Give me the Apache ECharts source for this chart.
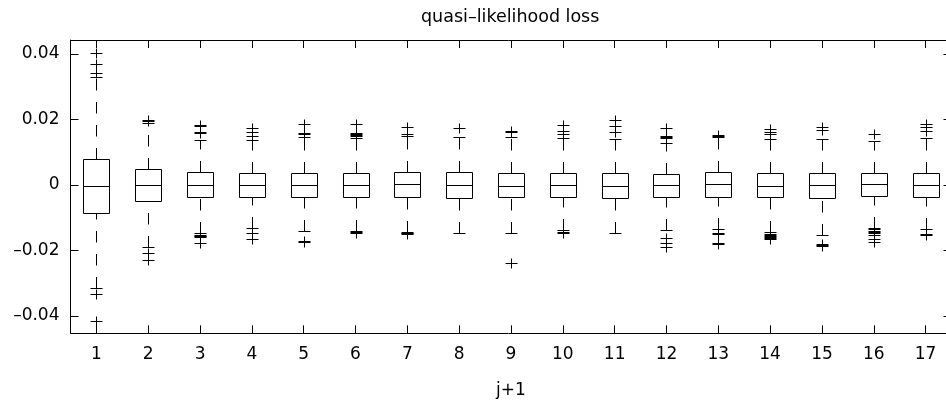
<!DOCTYPE html>
<html>
<head>
<meta charset="utf-8">
<style>
  html, body { margin: 0; padding: 0; background: #fff; }
  #chart { width: 946px; height: 401px; }
</style>
<script src="https://cdn.jsdelivr.net/npm/echarts@6/dist/echarts.min.js"></script>
</head>
<body>
<div id="chart"></div>
<script>
const categories = ['1', '2', '3', '4', '5', '6', '7', '8', '9', '10', '11', '12', '13', '14', '15', '16', '17'];

// box statistics
const q1 = [-0.0086, -0.0048, -0.0038, -0.0038, -0.0038, -0.0036, -0.0036, -0.0040, -0.0038, -0.0036, -0.0041, -0.0038, -0.0036, -0.0038, -0.0039, -0.0033, -0.0038];
const median = [-0.0002, -0.0001, -0.0001, 0.0001, 0.0000, 0.0000, 0.0002, 0.0000, -0.0003, 0.0000, -0.0003, 0.0000, 0.0003, -0.0002, 0.0000, 0.0003, 0.0000];
const q3 = [0.0079, 0.0048, 0.0039, 0.0036, 0.0036, 0.0038, 0.0040, 0.0040, 0.0038, 0.0038, 0.0036, 0.0033, 0.0039, 0.0036, 0.0036, 0.0038, 0.0036];
const whiskerLow = [-0.0316, -0.0188, -0.0147, -0.0132, -0.0139, -0.0141, -0.0143, -0.0148, -0.0148, -0.0138, -0.0148, -0.0136, -0.0135, -0.0145, -0.0152, -0.0130, -0.0135];
const whiskerHigh = [0.0329, 0.0190, 0.0139, 0.0139, 0.0146, 0.0143, 0.0150, 0.0146, 0.0146, 0.0143, 0.0140, 0.0127, 0.0148, 0.0140, 0.0140, 0.0135, 0.0143];

const outliers = [
  [0.0341, 0.0371, 0.0402, 0.0455, -0.0334, -0.0414, -0.0465],
  [0.0196, 0.0199, -0.0207, -0.0229],
  [0.0160, 0.0163, 0.0180, 0.0183, -0.0152, -0.0155, -0.0157, -0.0160, -0.0178],
  [0.0150, 0.0163, 0.0173, -0.0148, -0.0166],
  [0.0155, 0.0158, 0.0186, -0.0171, -0.0174],
  [0.0150, 0.0152, 0.0155, 0.0158, 0.0186, -0.0145, -0.0147],
  [0.0156, 0.0177, -0.0146, -0.0148, -0.0150],
  [0.0173],
  [0.0163, 0.0166, -0.0237],
  [0.0156, 0.0166, 0.0183, -0.0144, -0.0146],
  [0.0163, 0.0180, 0.0198],
  [0.0144, 0.0146, 0.0149, 0.0175, -0.0163, -0.0178, -0.0190],
  [0.0151, 0.0153, -0.0147, -0.0150, -0.0176, -0.0179],
  [0.0155, 0.0161, 0.0170, -0.0150, -0.0153, -0.0156, -0.0159, -0.0162, -0.0166],
  [0.0168, 0.0178, -0.0179, -0.0183, -0.0187],
  [0.0155, -0.0135, -0.0140, -0.0144, -0.0148, -0.0152, -0.0166, -0.0173],
  [0.0166, 0.0176, 0.0186, -0.0150, -0.0152]
];

const yTicks = [-0.04, -0.02, 0, 0.02, 0.04];
const yMin = -0.0453;
const yMax = 0.0443;

const FONT = 'DejaVu Sans';

const boxData = categories.map((c, i) => [i, whiskerLow[i], q1[i], median[i], q3[i], whiskerHigh[i]]);
const outlierData = [];
outliers.forEach((list, i) => list.forEach(v => outlierData.push([i, v])));

const crisp = v => Math.round(v) + 0.5;

function renderBox(params, api) {
  const i = api.value(0);
  const band = api.size([1, 0])[0];
  const half = Math.round(band * 0.25);
  const capHalf = Math.round(band * 0.125);
  const px = crisp(api.coord([i, 0])[0]);
  const y = d => crisp(api.coord([i, api.value(d)])[1]);
  const lo = y(1), bot = y(2), mid = y(3), top = y(4), hi = y(5);
  const solid = { stroke: '#000', lineWidth: 1, fill: null };
  const dashed = { stroke: '#000', lineWidth: 1, lineDash: [11.5, 11.5], fill: null };
  return {
    type: 'group',
    children: [
      { type: 'rect', shape: { x: px - half, y: top, width: half * 2, height: bot - top }, style: { stroke: '#000', lineWidth: 1, fill: 'none' } },
      { type: 'line', shape: { x1: px - half, y1: mid, x2: px + half, y2: mid }, style: solid },
      // whiskers are drawn upward so the dash pattern starts at the lower end
      { type: 'line', shape: { x1: px, y1: top, x2: px, y2: hi }, style: dashed },
      { type: 'line', shape: { x1: px, y1: lo, x2: px, y2: bot }, style: dashed },
      { type: 'line', shape: { x1: px - capHalf, y1: hi, x2: px + capHalf, y2: hi }, style: solid },
      { type: 'line', shape: { x1: px - capHalf, y1: lo, x2: px + capHalf, y2: lo }, style: solid }
    ]
  };
}

function renderPlus(params, api) {
  const p = api.coord([api.value(0), api.value(1)]);
  const x = crisp(p[0]);
  const y = crisp(p[1]);
  const style = { stroke: '#000', lineWidth: 1 };
  return {
    type: 'group',
    children: [
      { type: 'line', shape: { x1: x - 6, y1: y, x2: x + 6, y2: y }, style: style },
      { type: 'line', shape: { x1: x, y1: y - 5, x2: x, y2: y + 5 }, style: style }
    ]
  };
}

const chart = echarts.init(document.getElementById('chart'));

const tickStyle = { color: '#000', width: 1 };
const axisLineStyle = { show: true, onZero: false, lineStyle: { color: '#000', width: 1 } };

const option = {
  animation: false,
  backgroundColor: '#fff',
  title: {
    text: 'quasi\u2013likelihood loss',
    left: 421,
    top: 8,
    padding: 0,
    textStyle: { fontFamily: FONT, fontSize: 17.5, fontWeight: 'normal', color: '#000' }
  },
  // the right border sits just outside the picture, as in the original crop
  grid: { left: 70.5, right: -5.5, top: 40, bottom: 67.7, containLabel: false, outerBoundsMode: 'none' },
  xAxis: [
    {
      type: 'category',
      data: categories,
      position: 'bottom',
      boundaryGap: true,
      name: 'j+1',
      nameLocation: 'middle',
      nameGap: 49,
      nameTextStyle: { fontFamily: FONT, fontSize: 17, color: '#000' },
      axisLine: axisLineStyle,
      axisTick: { show: true, inside: true, alignWithLabel: true, interval: 0, length: 8, lineStyle: tickStyle },
      axisLabel: { interval: 0, margin: 13, fontFamily: FONT, fontSize: 17, color: '#000' },
      splitLine: { show: false }
    },
    {
      type: 'category',
      data: categories,
      position: 'top',
      boundaryGap: true,
      axisLine: axisLineStyle,
      axisTick: { show: true, inside: true, alignWithLabel: true, interval: 0, length: 8, lineStyle: tickStyle },
      axisLabel: { show: false },
      splitLine: { show: false }
    }
  ],
  yAxis: [
    {
      type: 'value',
      min: yMin,
      max: yMax,
      axisLine: axisLineStyle,
      axisTick: { show: true, inside: true, length: 8, customValues: yTicks, lineStyle: tickStyle },
      axisLabel: {
        customValues: yTicks,
        margin: 11,
        fontFamily: FONT,
        fontSize: 17,
        color: '#000',
        formatter: v => (v < 0 ? '\u2013' + String(-v) : String(v))
      },
      splitLine: { show: false }
    },
    {
      type: 'value',
      position: 'right',
      min: yMin,
      max: yMax,
      axisLine: axisLineStyle,
      axisTick: { show: true, inside: true, length: 8, customValues: yTicks, lineStyle: tickStyle },
      axisLabel: { show: false },
      splitLine: { show: false }
    }
  ],
  series: [
    {
      type: 'custom',
      name: 'box',
      xAxisIndex: 0,
      yAxisIndex: 0,
      clip: true,
      renderItem: renderBox,
      encode: { x: 0, y: [1, 2, 3, 4, 5] },
      data: boxData
    },
    {
      type: 'custom',
      name: 'outliers',
      xAxisIndex: 0,
      yAxisIndex: 0,
      clip: true,
      renderItem: renderPlus,
      encode: { x: 0, y: 1 },
      data: outlierData
    }
  ]
};

chart.setOption(option);
</script>
</body>
</html>
